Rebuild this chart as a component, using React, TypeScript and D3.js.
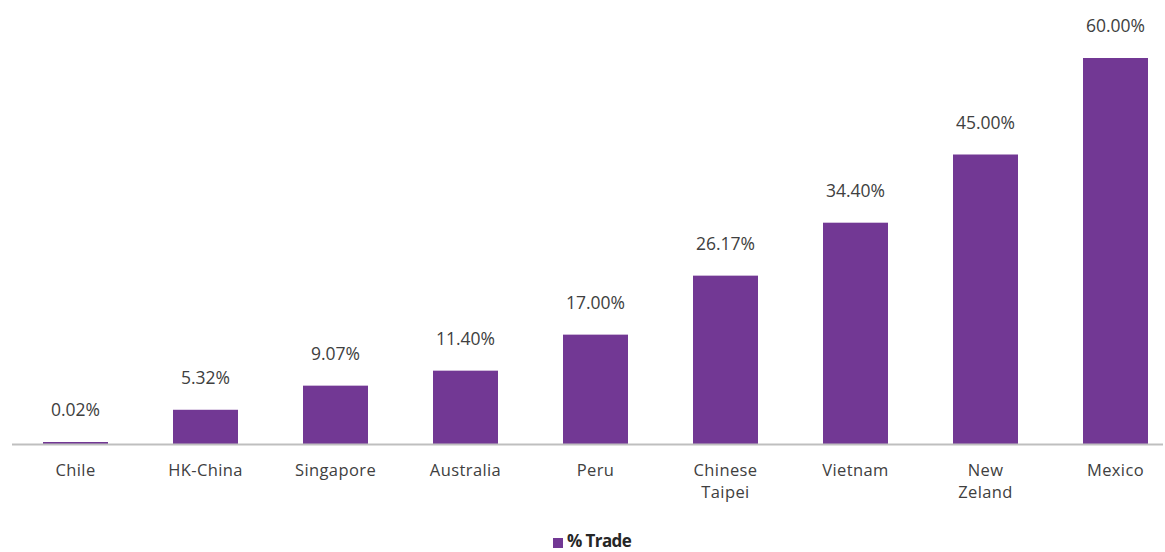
import React from 'react';
import * as d3 from 'd3';

const categories = ['Chile', 'HK-China', 'Singapore', 'Australia', 'Peru', 'Chinese Taipei', 'Vietnam', 'New Zeland', 'Mexico'];
const categoryLines = [['Chile'], ['HK-China'], ['Singapore'], ['Australia'], ['Peru'], ['Chinese', 'Taipei'], ['Vietnam'], ['New', 'Zeland'], ['Mexico']];
const tradeValues = [0.02, 5.32, 9.07, 11.4, 17.0, 26.17, 34.4, 45.0, 60.0];
const seriesName = '% Trade';

const W = 1165;
const H = 552;
const baseline = 444;
const barColor = '#723894';
const textColor = '#404040';
const font = '"Open Sans", Lato, sans-serif';

const App: React.FC = () => {
  const x = d3.scaleBand<string>().domain(categories).range([10.5, 1180.5]).paddingInner(0.5).paddingOuter(0.25);
  const y = d3.scaleLinear().domain([0, 60]).range([baseline, 58]);

  return (
    <svg width={W} height={H} style={{ position: 'absolute', left: 0, top: 0, background: '#fff' }}>
      {tradeValues.map((v, i) => {
        // tiny values still get a visible sliver, as in the source chart
        const top = Math.min(y(v), baseline - 2);
        const cx = x(categories[i])! + x.bandwidth() / 2;
        return (
          <g key={categories[i]}>
            <rect x={x(categories[i])} y={top} width={x.bandwidth()} height={baseline - top} fill={barColor} />
            <text x={cx} y={top - 26} textAnchor="middle" fontFamily={font} fontSize={17.5} fill={textColor}>
              {v.toFixed(2) + '%'}
            </text>
            {categoryLines[i].map((line, j) => (
              <text key={j} x={cx} y={476 + j * 22} textAnchor="middle" fontFamily={font} fontSize={16.5} letterSpacing={0.4} fill={textColor}>
                {line}
              </text>
            ))}
          </g>
        );
      })}
      {/* axis */}
      <line x1={12} x2={1163} y1={baseline + 0.5} y2={baseline + 0.5} stroke="#bfbfbf" strokeWidth={2} />
      {/* legend */}
      <rect x={553} y={538} width={10} height={10} fill={barColor} />
      <text x={567} y={547} fontFamily={font} fontSize={17} fontWeight="bold" fill="#262626" letterSpacing={-0.6}>
        {seriesName}
      </text>
    </svg>
  );
};

export default App;
